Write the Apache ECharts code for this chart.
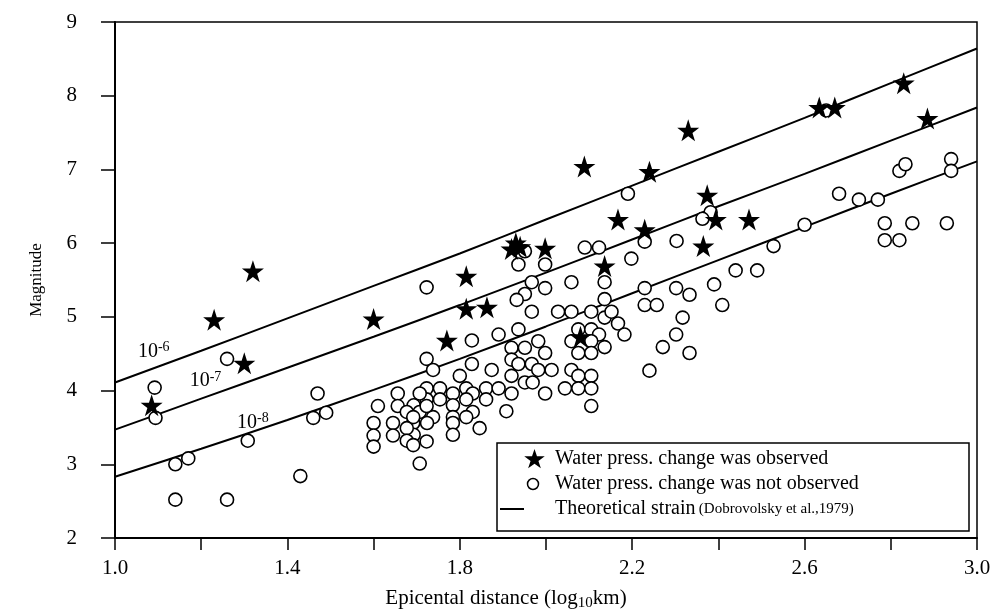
<!DOCTYPE html>
<html>
<head>
<meta charset="utf-8">
<script src="https://cdn.jsdelivr.net/npm/echarts@6/dist/echarts.min.js"></script>
<style>
  html, body { margin: 0; padding: 0; background: #fff; }
  #main { width: 994px; height: 616px; }
</style>
</head>
<body>
<div id="main"></div>
<script>
// earthquakes where a water pressure change was seen: [log10 distance, magnitude]
const observed = [
  [1.085, 3.80], [1.23, 4.96], [1.30, 4.37], [1.32, 5.62], [1.60, 4.97],
  [1.77, 4.68], [1.815, 5.11], [1.815, 5.55], [1.863, 5.13], [1.92, 5.92],
  [1.93, 6.00], [1.94, 5.95], [1.998, 5.93], [2.08, 4.73], [2.089, 7.04],
  [2.136, 5.69], [2.167, 6.32], [2.229, 6.18], [2.24, 6.97], [2.33, 7.53],
  [2.365, 5.96], [2.374, 6.65], [2.394, 6.32], [2.471, 6.32], [2.634, 7.84],
  [2.67, 7.84], [2.83, 8.17], [2.885, 7.69]
];

// earthquakes with no change seen
const notObserved = [
  [1.092, 4.04], [1.094, 3.63], [1.26, 4.43], [1.14, 3.00], [1.17, 3.08],
  [1.14, 2.52], [1.26, 2.52], [1.308, 3.32], [1.43, 2.84], [1.47, 3.96],
  [1.46, 3.63], [1.49, 3.70], [1.61, 3.79], [1.60, 3.56], [1.60, 3.39],
  [1.60, 3.24], [1.645, 3.56], [1.645, 3.39], [1.656, 3.96], [1.656, 3.79],
  [1.951, 5.89], [1.936, 5.71], [1.998, 5.71], [1.723, 5.40], [1.967, 5.47],
  [1.951, 5.31], [1.932, 5.23], [1.998, 5.39], [2.059, 5.47], [1.967, 5.07],
  [2.028, 5.07], [2.059, 5.07], [1.828, 4.68], [1.89, 4.76], [1.936, 4.83],
  [1.723, 4.43], [1.738, 4.28], [1.828, 4.36], [1.874, 4.28], [1.92, 4.58],
  [1.951, 4.58], [1.982, 4.67], [1.998, 4.51], [1.92, 4.42], [1.936, 4.36],
  [1.967, 4.36], [1.982, 4.28], [2.013, 4.28], [2.059, 4.28], [1.92, 4.20],
  [1.951, 4.11], [2.044, 4.03], [1.998, 3.96], [2.075, 4.20], [1.80, 4.20],
  [1.693, 3.80], [1.723, 4.03], [1.723, 3.88], [1.754, 4.03], [1.784, 3.96],
  [1.815, 4.03], [1.83, 3.96], [1.861, 4.03], [1.89, 4.03], [1.92, 3.96],
  [1.784, 3.80], [1.815, 3.88], [1.83, 3.71], [1.861, 3.88], [1.754, 3.88],
  [1.677, 3.71], [1.707, 3.71], [1.738, 3.64], [1.784, 3.64], [1.815, 3.64],
  [1.908, 3.72], [1.692, 3.56], [1.724, 3.56], [1.784, 3.56], [1.693, 3.40],
  [1.784, 3.40], [1.846, 3.49], [1.723, 3.31],
  [1.707, 3.96], [1.969, 4.11], [1.723, 3.79], [1.692, 3.64], [1.677, 3.49],
  [1.677, 3.32], [1.692, 3.26], [1.707, 3.01],
  [2.382, 6.42], [2.363, 6.33], [2.09, 5.94], [2.123, 5.94], [2.229, 6.02],
  [2.303, 6.03], [2.198, 5.79], [2.136, 5.47], [2.136, 5.24], [2.229, 5.39],
  [2.302, 5.39], [2.333, 5.30], [2.39, 5.44], [2.44, 5.63], [2.49, 5.63],
  [2.409, 5.16], [2.229, 5.16], [2.257, 5.16], [2.105, 5.07], [2.136, 4.99],
  [2.152, 5.07], [2.167, 4.91], [2.182, 4.76], [2.317, 4.99], [2.302, 4.76],
  [2.271, 4.59], [2.333, 4.51], [2.24, 4.27], [2.075, 4.83], [2.105, 4.83],
  [2.123, 4.76], [2.059, 4.67], [2.105, 4.67], [2.136, 4.59], [2.075, 4.51],
  [2.105, 4.51], [2.105, 4.20], [2.075, 4.03], [2.105, 4.03], [2.105, 3.79],
  [2.19, 6.67], [2.528, 5.96], [2.60, 6.25], [2.68, 6.67], [2.726, 6.59],
  [2.77, 6.59], [2.82, 6.98], [2.834, 7.07], [2.94, 7.14], [2.94, 6.98],
  [2.786, 6.27], [2.85, 6.27], [2.93, 6.27], [2.786, 6.04], [2.82, 6.04],
  [2.65, 7.80]
];

// theoretical strain curves (Dobrovolsky et al., 1979)
const strainX = [1.0, 1.2, 1.4, 1.6, 1.8, 2.0, 2.2, 2.4, 2.6, 2.8, 3.0];
const strain6 = [4.11, 4.54, 4.98, 5.42, 5.86, 6.32, 6.78, 7.24, 7.70, 8.17, 8.64];
const strain7 = [3.47, 3.89, 4.31, 4.73, 5.16, 5.60, 6.05, 6.50, 6.94, 7.39, 7.84];
const strain8 = [2.83, 3.21, 3.60, 4.01, 4.43, 4.87, 5.32, 5.77, 6.22, 6.67, 7.11];

const strainNames = ['6', '7', '8'];
const strainLabelAt = [[1.09, 4.53], [1.21, 4.13], [1.32, 3.57]];

const legendNames = [
  'Water press. change was observed',
  'Water press. change was not observed',
  'Theoretical strain'
];

const serif = 'Liberation Serif';
const starPts = [[50, 0], [61.8, 35.1], [98.8, 35.1], [68.8, 56.9], [80.3, 91.9],
  [50, 70.2], [19.7, 91.9], [31.2, 56.9], [1.2, 35.1], [38.2, 35.1]];
const star = 'path://M' + starPts.map(p => p[0] + ',' + p[1]).join(' L') + ' Z';

function curve(ys) {
  return strainX.map((x, i) => [x, ys[i]]);
}

function strainSeries(ys, idx) {
  return {
    name: 'strain 1e-' + strainNames[idx],
    type: 'line',
    data: curve(ys),
    smooth: 0.3,
    symbol: 'none',
    silent: true,
    lineStyle: {color: '#000', width: 2},
    z: 1,
    markPoint: {
      symbol: 'circle',
      symbolSize: 0,
      silent: true,
      label: {
        show: true,
        formatter: '{b|10}{s|-' + strainNames[idx] + '}',
        rich: {
          b: {fontFamily: serif, fontSize: 20, color: '#000'},
          s: {fontFamily: serif, fontSize: 14, color: '#000', verticalAlign: 'top', padding: [0, 0, 8, 0]}
        }
      },
      data: [{coord: strainLabelAt[idx]}]
    }
  };
}

// hand-built legend box (mixed font sizes like the original figure)
const lgX = 497, lgY = 443, lgW = 472, lgH = 88;
const rowY = [459, 484, 509];
const legendGraphic = [
  {type: 'rect', shape: {x: lgX, y: lgY, width: lgW, height: lgH},
    style: {fill: '#fff', stroke: '#000', lineWidth: 1.5}, z: 100},
  {type: 'polygon', shape: {points: starPts.map(p => [524 + p[0] * 0.21, rowY[0] - 10 + p[1] * 0.21])},
    style: {fill: '#000'}, z: 101},
  {type: 'circle', shape: {cx: 533, cy: rowY[1], r: 5.5},
    style: {fill: '#fff', stroke: '#000', lineWidth: 1.5}, z: 101},
  {type: 'line', shape: {x1: 500, y1: rowY[2], x2: 524, y2: rowY[2]},
    style: {stroke: '#000', lineWidth: 2}, z: 101},
  {type: 'text', x: 555, y: rowY[0], z: 101,
    style: {text: legendNames[0], font: '20px "Liberation Serif"', fill: '#000', verticalAlign: 'middle'}},
  {type: 'text', x: 555, y: rowY[1], z: 101,
    style: {text: legendNames[1], font: '20px "Liberation Serif"', fill: '#000', verticalAlign: 'middle'}},
  {type: 'text', x: 555, y: rowY[2], z: 101,
    style: {
      text: '{a|' + legendNames[2] + '} {b|(Dobrovolsky et al.,1979)}',
      verticalAlign: 'middle',
      rich: {
        a: {fontFamily: serif, fontSize: 20, fill: '#000'},
        b: {fontFamily: serif, fontSize: 15, fill: '#000'}
      }
    }}
];

const chart = echarts.init(document.getElementById('main'));
const option = {
  animation: false,
  grid: {
    left: 115, right: 17, top: 22, bottom: 75,
    show: true, borderColor: '#000', borderWidth: 1.5
  },
  xAxis: {
    type: 'value',
    min: 1.0, max: 3.0, interval: 0.2,
    name: '{a|Epicental distance (log}{s|10}{a|km)}',
    nameLocation: 'middle',
    nameGap: 48,
    nameTextStyle: {
      padding: [0, 80, 0, 0],
      rich: {
        a: {fontFamily: serif, fontSize: 21, color: '#000'},
        s: {fontFamily: serif, fontSize: 15, color: '#000', verticalAlign: 'bottom', padding: [10, 0, 0, 0]}
      }
    },
    axisLine: {show: true, lineStyle: {color: '#000', width: 2}},
    axisTick: {show: true, length: 12, lineStyle: {color: '#000', width: 1.5}},
    axisLabel: {
      margin: 20, fontFamily: serif, fontSize: 21, color: '#000',
      formatter: function (v) {
        return Math.round(v * 10) % 4 === 2 ? v.toFixed(1) : '';
      }
    },
    splitLine: {show: false}
  },
  yAxis: {
    type: 'value',
    min: 2, max: 9, interval: 1,
    name: 'Magnitude',
    nameLocation: 'middle',
    nameGap: 70,
    nameTextStyle: {fontFamily: serif, fontSize: 17, color: '#000'},
    axisLine: {show: true, lineStyle: {color: '#000', width: 2}},
    axisTick: {show: true, length: 14, lineStyle: {color: '#000', width: 1.5}},
    axisLabel: {margin: 38, fontFamily: serif, fontSize: 21, color: '#000'},
    splitLine: {show: false}
  },
  graphic: legendGraphic,
  series: [
    strainSeries(strain6, 0),
    strainSeries(strain7, 1),
    strainSeries(strain8, 2),
    {
      name: legendNames[1],
      type: 'scatter',
      data: notObserved,
      symbol: 'circle',
      symbolSize: 13,
      itemStyle: {color: '#fff', borderColor: '#000', borderWidth: 1.6, opacity: 1},
      z: 3
    },
    {
      name: legendNames[0],
      type: 'scatter',
      data: observed,
      symbol: star,
      symbolSize: 22,
      itemStyle: {color: '#000', opacity: 1},
      z: 4
    }
  ]
};
chart.setOption(option);
</script>
</body>
</html>
